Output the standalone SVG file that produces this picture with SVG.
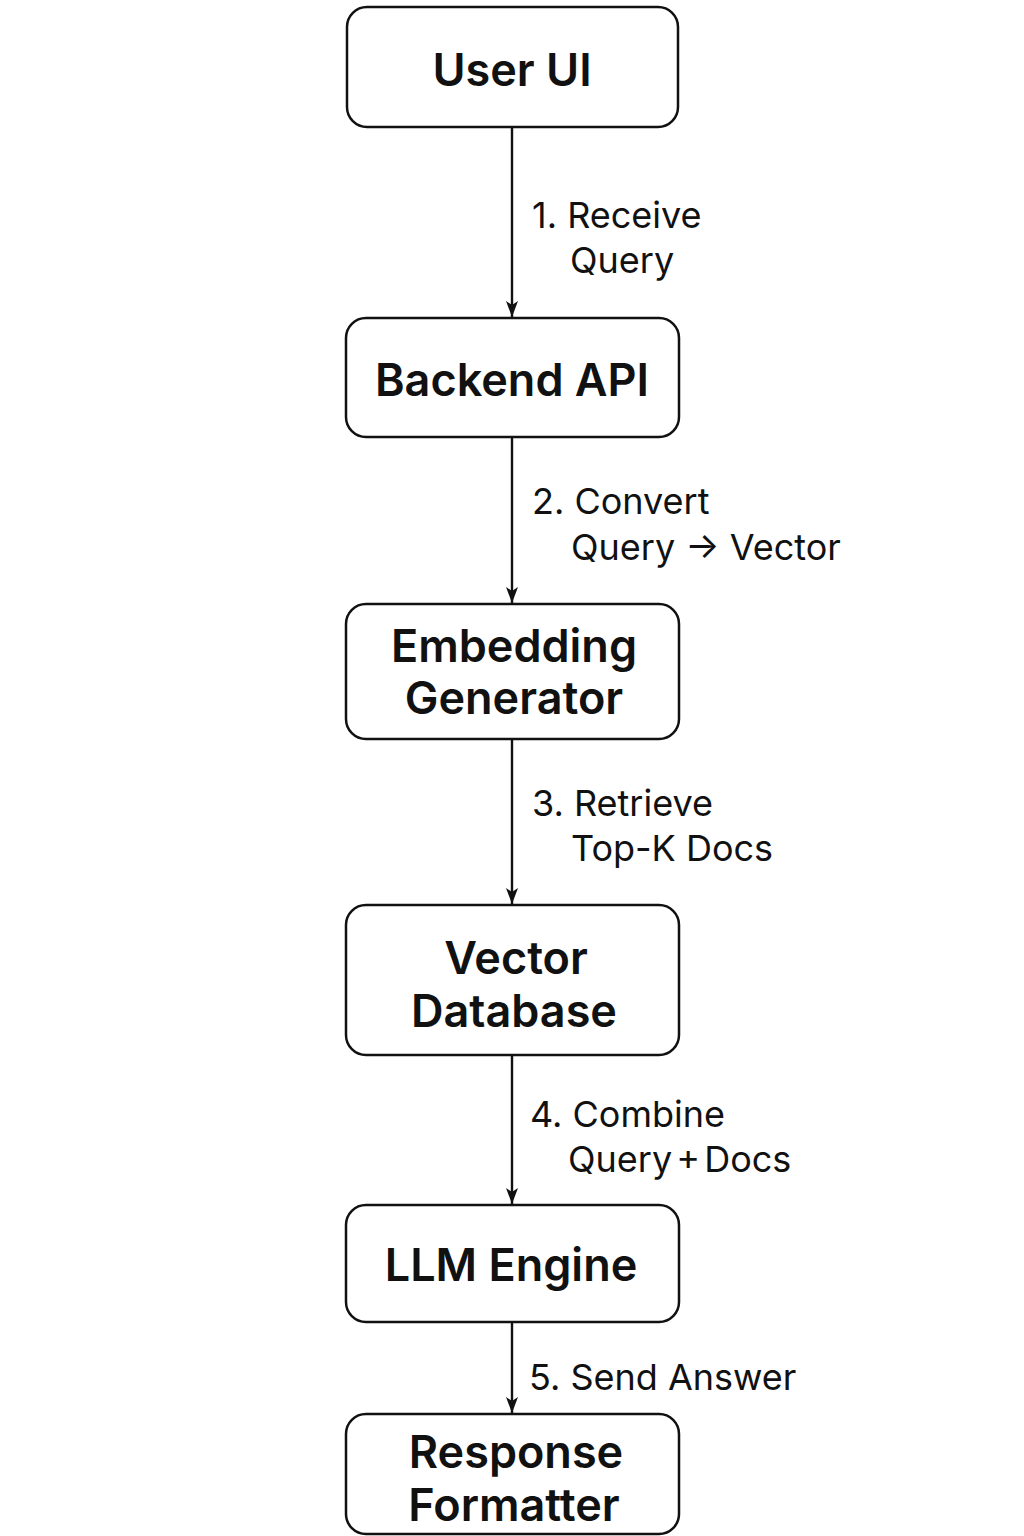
<svg xmlns="http://www.w3.org/2000/svg" width="1024" height="1536" viewBox="0 0 1024 1536">
<style>
.box{fill:#fff;stroke:#111;stroke-width:2.5}
.nt{font-family:Inter,"Liberation Sans",sans-serif;font-weight:600;font-size:45px;fill:#111;text-anchor:middle}
.lt{font-family:Inter,"Liberation Sans",sans-serif;font-size:36px;fill:#111}
.edge{stroke:#111;stroke-width:2.4;fill:none}
</style>
<defs>
<marker id="ah" viewBox="0 0 16 12" refX="16" refY="6" markerWidth="16" markerHeight="12" markerUnits="userSpaceOnUse" orient="auto">
<path d="M0,0 L16,6 L0,12 L4,6 Z" fill="#111"/>
</marker>
</defs>
<rect width="1024" height="1536" fill="#fff"/>
<g id="connectors">
<line class="edge" x1="512" y1="127" x2="512" y2="317" marker-end="url(#ah)"/>
<line class="edge" x1="512" y1="437" x2="512" y2="603" marker-end="url(#ah)"/>
<line class="edge" x1="512" y1="739" x2="512" y2="904" marker-end="url(#ah)"/>
<line class="edge" x1="512" y1="1055" x2="512" y2="1204" marker-end="url(#ah)"/>
<line class="edge" x1="512" y1="1322" x2="512" y2="1413" marker-end="url(#ah)"/>
<text class="lt" x="532" y="228">1. Receive</text>
<text class="lt" x="570" y="273">Query</text>
<text class="lt" x="532" y="514">2. Convert</text>
<text class="lt" x="571" y="560">Query → Vector</text>
<text class="lt" x="532" y="816">3. Retrieve</text>
<text class="lt" x="571" y="861">Top-K Docs</text>
<text class="lt" x="530" y="1127">4. Combine</text>
<text class="lt" x="568" y="1172" word-spacing="-6">Query + Docs</text>
<text class="lt" x="529" y="1390">5. Send Answer</text>
</g>
<g id="user-ui">
<rect class="box" x="347" y="7" width="331" height="120" rx="20"/>
<text class="nt" x="512" y="86">User UI</text>
</g>
<g id="backend-api">
<rect class="box" x="346" y="318" width="333" height="119" rx="20"/>
<text class="nt" x="512" y="396">Backend API</text>
</g>
<g id="embedding-generator">
<rect class="box" x="346" y="604" width="333" height="135" rx="20"/>
<text class="nt" x="514" y="662">Embedding</text>
<text class="nt" x="514" y="714">Generator</text>
</g>
<g id="vector-database">
<rect class="box" x="346" y="905" width="333" height="150" rx="20"/>
<text class="nt" x="516" y="974">Vector</text>
<text class="nt" x="514" y="1027">Database</text>
</g>
<g id="llm-engine">
<rect class="box" x="346" y="1205" width="333" height="117" rx="20"/>
<text class="nt" x="511" y="1281">LLM Engine</text>
</g>
<g id="response-formatter">
<rect class="box" x="346" y="1414" width="333" height="120" rx="20"/>
<text class="nt" x="516" y="1468">Response</text>
<text class="nt" x="514" y="1521">Formatter</text>
</g>
</svg>
